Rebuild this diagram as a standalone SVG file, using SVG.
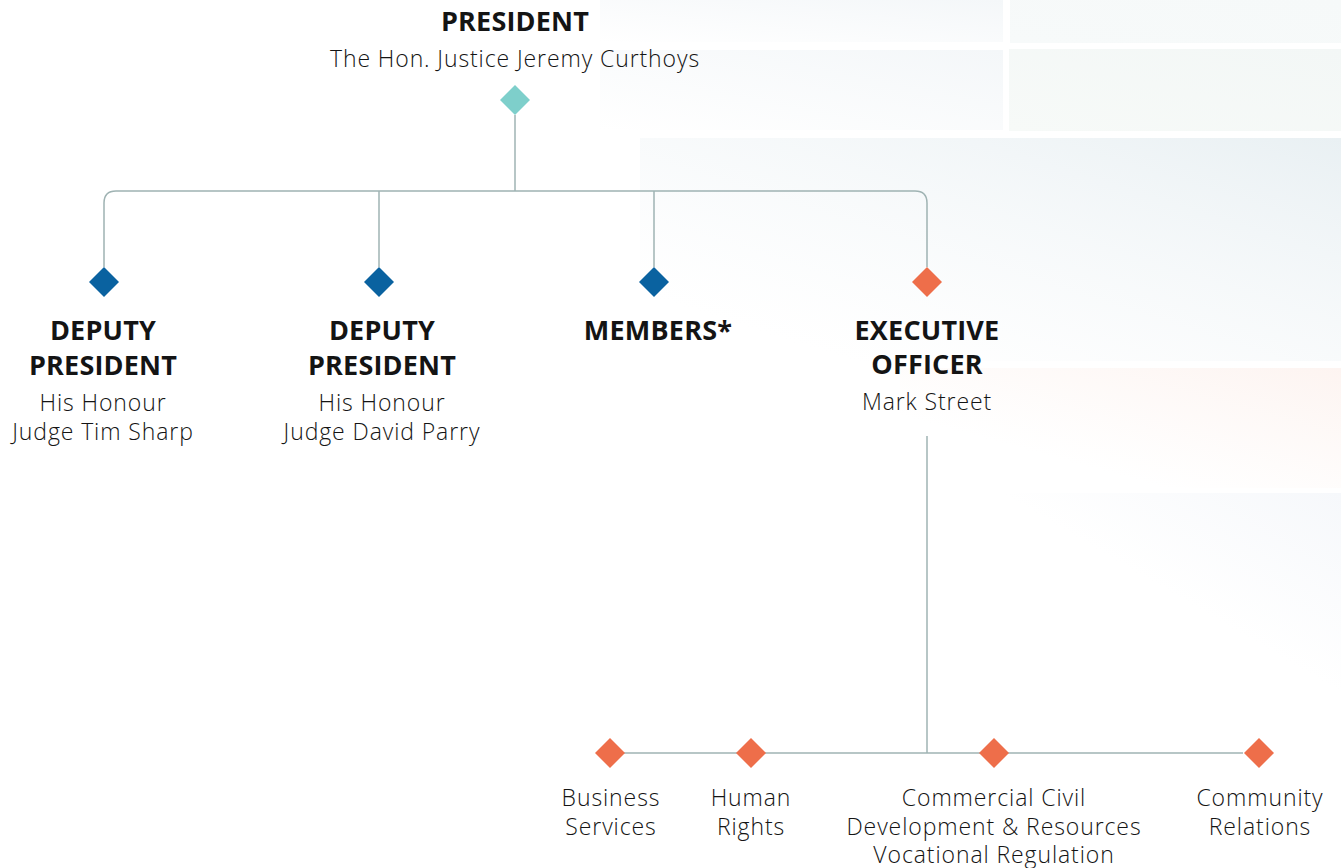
<svg xmlns="http://www.w3.org/2000/svg" width="1341" height="868" viewBox="0 0 1341 868">
<style>
.t{font-family:"Open Sans",Lato,"Liberation Sans",sans-serif;fill:#141414;text-anchor:middle}
.h{font-size:27px;font-weight:700;letter-spacing:0.2px}
.s{font-size:23px;font-weight:300;letter-spacing:0.9px}
.ln{fill:none;stroke:#9fb3b3;stroke-width:1.5}
</style>
<defs>
<linearGradient id="gA" x1="0" y1="1" x2="1" y2="0"><stop offset="0" stop-color="#f4f7f9" stop-opacity="0"/><stop offset="1" stop-color="#f4f7f9"/></linearGradient>
<linearGradient id="gB" x1="0" y1="1" x2="1" y2="0"><stop offset="0" stop-color="#f7fafa"/><stop offset="1" stop-color="#f6f9f9"/></linearGradient>
<linearGradient id="gD" x1="0" y1="1" x2="1" y2="0"><stop offset="0" stop-color="#f7faf8"/><stop offset="1" stop-color="#f3f7f6"/></linearGradient>
<linearGradient id="gE" x1="0" y1="1" x2="1" y2="0"><stop offset="0.15" stop-color="#f2f6f8" stop-opacity="0"/><stop offset="1" stop-color="#e9f0f3"/></linearGradient>
<linearGradient id="gF" x1="0" y1="1" x2="1" y2="0"><stop offset="0.3" stop-color="#fdf6f3" stop-opacity="0"/><stop offset="1" stop-color="#fdf4f1"/></linearGradient>
<linearGradient id="gG" x1="0" y1="1" x2="1" y2="0"><stop offset="0.5" stop-color="#f6f8fb" stop-opacity="0"/><stop offset="1" stop-color="#f6f8fb"/></linearGradient>
<path id="dm" d="M0,-15 L15,0 L0,15 L-15,0 Z"/>
</defs>
<rect width="1341" height="868" fill="#ffffff"/>
<g id="background">
<rect x="600" y="0" width="403" height="42" fill="url(#gA)"/>
<rect x="1010" y="0" width="331" height="43" fill="url(#gB)"/>
<rect x="600" y="50" width="403" height="80" fill="url(#gA)"/>
<rect x="1009" y="49" width="332" height="82" fill="url(#gD)"/>
<rect x="640" y="138" width="701" height="223" fill="url(#gE)"/>
<rect x="900" y="368" width="441" height="120" fill="url(#gF)"/>
<rect x="1000" y="493" width="341" height="200" fill="url(#gG)"/>
</g>
<g id="connectors">
<path class="ln" d="M515,115 V191"/>
<path class="ln" d="M104,267 V203 Q104,191 116,191 H915 Q927,191 927,203 V267"/>
<path class="ln" d="M379,191 V267"/>
<path class="ln" d="M654,191 V267"/>
<path class="ln" d="M927,436 V753"/>
<path class="ln" d="M610,753 H1243"/>
</g>
<g id="president">
<use href="#dm" x="515" y="100" fill="#7ecfcb"/>
<text class="t h" x="515" y="31">PRESIDENT</text>
<text class="t s" x="515" y="67">The Hon. Justice Jeremy Curthoys</text>
</g>
<g id="deputy1">
<use href="#dm" x="104" y="282" fill="#0a62a0"/>
<text class="t h" x="103" y="340">DEPUTY</text>
<text class="t h" x="103" y="375">PRESIDENT</text>
<text class="t s" x="103" y="411">His Honour</text>
<text class="t s" x="103" y="440">Judge Tim Sharp</text>
</g>
<g id="deputy2">
<use href="#dm" x="379" y="282" fill="#0a62a0"/>
<text class="t h" x="382" y="340">DEPUTY</text>
<text class="t h" x="382" y="375">PRESIDENT</text>
<text class="t s" x="382" y="411">His Honour</text>
<text class="t s" x="382" y="440">Judge David Parry</text>
</g>
<g id="members">
<use href="#dm" x="654" y="282" fill="#0a62a0"/>
<text class="t h" x="658" y="340">MEMBERS*</text>
</g>
<g id="executive">
<use href="#dm" x="927" y="282" fill="#ee6e4a"/>
<text class="t h" x="927" y="340">EXECUTIVE</text>
<text class="t h" x="927" y="374">OFFICER</text>
<text class="t s" x="927" y="410">Mark Street</text>
</g>
<g id="business">
<use href="#dm" x="610" y="753" fill="#ee6e4a"/>
<text class="t s" x="611" y="806">Business</text>
<text class="t s" x="611" y="835">Services</text>
</g>
<g id="human">
<use href="#dm" x="751" y="753" fill="#ee6e4a"/>
<text class="t s" x="751" y="806">Human</text>
<text class="t s" x="751" y="835">Rights</text>
</g>
<g id="commercial">
<use href="#dm" x="994" y="753" fill="#ee6e4a"/>
<text class="t s" x="994" y="806">Commercial Civil</text>
<text class="t s" x="994" y="835">Development &amp; Resources</text>
<text class="t s" x="994" y="863">Vocational Regulation</text>
</g>
<g id="community">
<use href="#dm" x="1259" y="753" fill="#ee6e4a"/>
<text class="t s" x="1260" y="806">Community</text>
<text class="t s" x="1260" y="835">Relations</text>
</g>
</svg>
